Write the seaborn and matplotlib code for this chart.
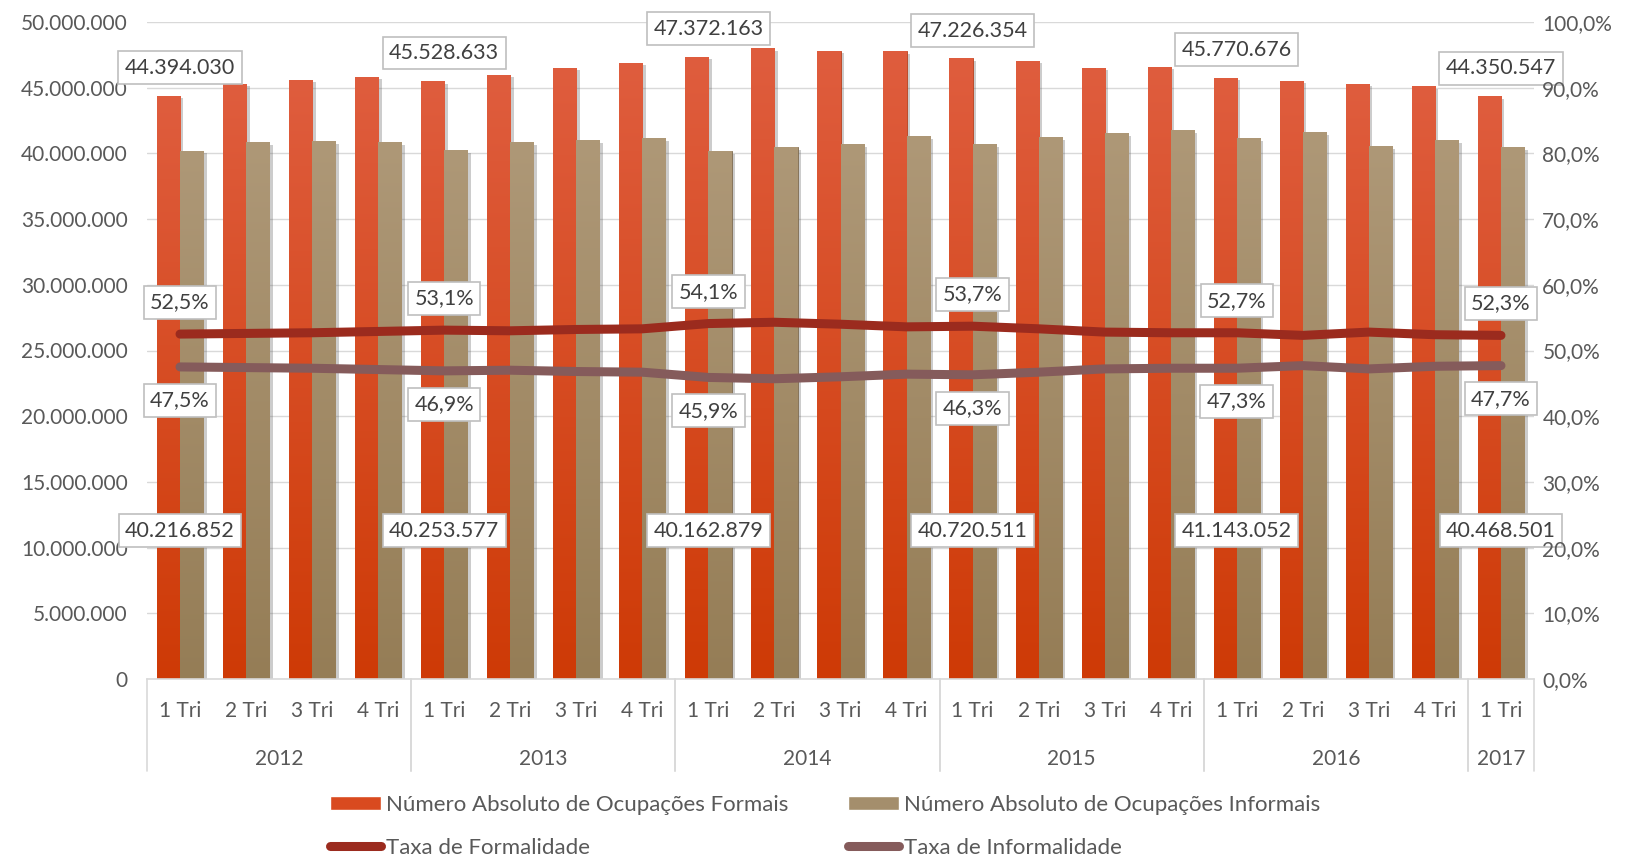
import numpy as np
import pandas as pd
import matplotlib
matplotlib.use("Agg")
import matplotlib.pyplot as plt
import seaborn as sns
import matplotlib.patheffects as pe
from matplotlib.ticker import FuncFormatter
from matplotlib.transforms import blended_transform_factory
from matplotlib.lines import Line2D
from matplotlib.colors import LinearSegmentedColormap

# ---------------- data ----------------
years = ["2012"] * 4 + ["2013"] * 4 + ["2014"] * 4 + ["2015"] * 4 + ["2016"] * 4 + ["2017"]
quarters = ["1 Tri", "2 Tri", "3 Tri", "4 Tri"] * 5 + ["1 Tri"]

formais = [44394030, 45310000, 45610000, 45840000,
           45528633, 46000000, 46530000, 46910000,
           47372163, 47990000, 47830000, 47760000,
           47226354, 47070000, 46530000, 46610000,
           45770676, 45540000, 45310000, 45150000,
           44350547]
informais = [40216852, 40840000, 40910000, 40840000,
             40253577, 40840000, 40990000, 41190000,
             40162879, 40460000, 40690000, 41320000,
             40720511, 41220000, 41520000, 41750000,
             41143052, 41600000, 40530000, 41020000,
             40468501]
taxa_formalidade = [52.5, 52.6, 52.7, 52.9, 53.1, 53.0, 53.2, 53.3,
                    54.1, 54.3, 54.0, 53.6, 53.7, 53.3, 52.8, 52.7,
                    52.7, 52.3, 52.8, 52.4, 52.3]
taxa_informalidade = [47.5, 47.4, 47.3, 47.1, 46.9, 47.0, 46.8, 46.7,
                      45.9, 45.7, 46.0, 46.4, 46.3, 46.7, 47.2, 47.3,
                      47.3, 47.7, 47.2, 47.6, 47.7]

name_f = "Número Absoluto de Ocupações Formais"
name_i = "Número Absoluto de Ocupações Informais"
name_tf = "Taxa de Formalidade"
name_ti = "Taxa de Informalidade"

# ---------------- style ----------------
sns.set_theme(style="white")
plt.rcParams['font.family'] = ['Lato', 'DejaVu Sans']
TXT = "#595959"
LBL = "#404040"
GRID = "#D9D9D9"
C_F, C_I = "#D94A1F", "#A48E6C"
C_TF, C_TI = "#9B2B1E", "#855B5B"
FS = 15

periodos = [f"{y} {q}" for y, q in zip(years, quarters)]
n = len(periodos)
long = pd.DataFrame({
    "periodo": periodos * 2,
    "valor": formais + informais,
    "serie": [name_f] * n + [name_i] * n,
})

fig = plt.figure(figsize=(16.34, 8.58), dpi=100)
ax = fig.add_axes([147 / 1634, 1 - 679 / 858, (1534 - 147) / 1634, (679 - 22) / 858])

sns.barplot(data=long, x="periodo", y="valor", hue="serie", order=periodos,
            hue_order=[name_f, name_i], palette=[C_F, C_I], width=0.7, gap=0,
            saturation=1, errorbar=None, ax=ax)

# gradient fill + edge + shadow on bars
grads = [("#CE3A06", "#DF5D3E"), ("#957D56", "#AE9877")]
edges = ["#B8421F", "#7E6B50"]
grad = np.linspace(0, 1, 256).reshape(-1, 1)
for cont, (c0, c1), ec in zip(ax.containers, grads, edges):
    cmap = LinearSegmentedColormap.from_list("g", [c0, c1])
    for p in cont:
        p.set_edgecolor(ec)
        p.set_linewidth(0.6)
        p.set_path_effects([pe.SimplePatchShadow(offset=(2.5, -2), shadow_rgbFace="0.35", alpha=0.3),
                            pe.Normal()])
        x0, y0 = p.get_x(), p.get_y()
        w, h = p.get_width(), p.get_height()
        im = ax.imshow(grad, extent=[x0, x0 + w, y0, y0 + h], origin="lower",
                       aspect="auto", cmap=cmap, interpolation="bicubic",
                       zorder=p.get_zorder() + 0.1)
        im.set_clip_path(p)

ax.set_xlim(-0.5, n - 0.5)
ax.set_ylim(0, 50_000_000)
ax.set_yticks(np.arange(0, 50_000_001, 5_000_000))
ax.yaxis.set_major_formatter(FuncFormatter(lambda v, _: f"{int(v):,}".replace(",", ".")))
ax.yaxis.grid(True, color=GRID, lw=1)
ax.set_axisbelow(True)
for s in ["top", "left", "right"]:
    ax.spines[s].set_visible(False)
ax.spines["bottom"].set_color(GRID)
ax.spines["bottom"].set_linewidth(1.2)
ax.set_xticks(range(n))
ax.set_xticklabels(quarters)
ax.tick_params(axis="x", length=0, pad=16, labelsize=FS, labelcolor=TXT)
ax.tick_params(axis="y", length=0, pad=14, labelsize=FS, labelcolor=TXT)
ax.set_xlabel("")
ax.set_ylabel("")

# year labels and separators
tr = blended_transform_factory(ax.transData, ax.transAxes)
uniq = list(dict.fromkeys(years))
for yv in uniq:
    idx = [i for i, y in enumerate(years) if y == yv]
    ax.text(np.mean(idx), -0.1215, yv, transform=tr, ha="center", va="center",
            fontsize=FS, color=TXT)
    for b in (idx[0] - 0.5, idx[-1] + 0.5):
        ax.add_line(Line2D([b, b], [0, -0.14], transform=tr, color=GRID, lw=1.2, clip_on=False))

# ---------------- rate lines ----------------
ax2 = ax.twinx()
xs = np.arange(n)
sns.lineplot(x=xs, y=taxa_formalidade, ax=ax2, color=C_TF, lw=6.5, label=name_tf,
             solid_capstyle="round", solid_joinstyle="round")
sns.lineplot(x=xs, y=taxa_informalidade, ax=ax2, color=C_TI, lw=6.5, label=name_ti,
             solid_capstyle="round", solid_joinstyle="round")
ax2.set_ylim(0, 100)
ax2.set_yticks(np.arange(0, 101, 10))
ax2.yaxis.set_major_formatter(FuncFormatter(lambda v, _: f"{v:.1f}%".replace(".", ",")))
ax2.tick_params(axis="y", length=0, pad=6, labelsize=FS, labelcolor=TXT)
for s in ax2.spines.values():
    s.set_visible(False)
ax2.grid(False)
ax2.set_ylabel("")
ax.set_xlim(-0.5, n - 0.5)

# ---------------- data labels ----------------
LFS = 15.5
box = dict(boxstyle="square,pad=0.3", fc="white", ec="#BFBFBF", lw=1.2)
first_q = [i for i, q in enumerate(quarters) if q == "1 Tri"]
fmt_num = lambda v: f"{v:,}".replace(",", ".")
fmt_pct = lambda v: f"{v:.1f}%".replace(".", ",")
for i in first_q:
    ax.annotate(fmt_num(formais[i]), xy=(i, formais[i]), xytext=(0, 20),
                textcoords="offset points", ha="center", va="center",
                fontsize=LFS, color=LBL, bbox=box, zorder=10)
    ax.annotate(fmt_num(informais[i]), xy=(i, 11_300_000), ha="center", va="center",
                fontsize=LFS, color=LBL, bbox=box, zorder=10)
    ax2.annotate(fmt_pct(taxa_formalidade[i]), xy=(i, taxa_formalidade[i]), xytext=(0, 23),
                 textcoords="offset points", ha="center", va="center",
                 fontsize=LFS, color=LBL, bbox=box, zorder=10)
    ax2.annotate(fmt_pct(taxa_informalidade[i]), xy=(i, taxa_informalidade[i]), xytext=(0, -24),
                 textcoords="offset points", ha="center", va="center",
                 fontsize=LFS, color=LBL, bbox=box, zorder=10)

# ---------------- legend ----------------
h1, l1 = ax.get_legend_handles_labels()
h2, l2 = ax2.get_legend_handles_labels()
if ax.legend_:
    ax.legend_.remove()
if ax2.legend_:
    ax2.legend_.remove()
hd = dict(zip(l1 + l2, h1 + h2))
order = [name_f, name_tf, name_i, name_ti]
fig.legend([hd[k] for k in order], order, loc="center", bbox_to_anchor=(0.505, 0.037),
           ncol=2, frameon=False, fontsize=16, handlelength=2.3, handleheight=0.6,
           handletextpad=0.2, columnspacing=2.7, labelspacing=1.05, labelcolor=TXT)

fig.savefig("out.png", dpi=100, facecolor="white")
